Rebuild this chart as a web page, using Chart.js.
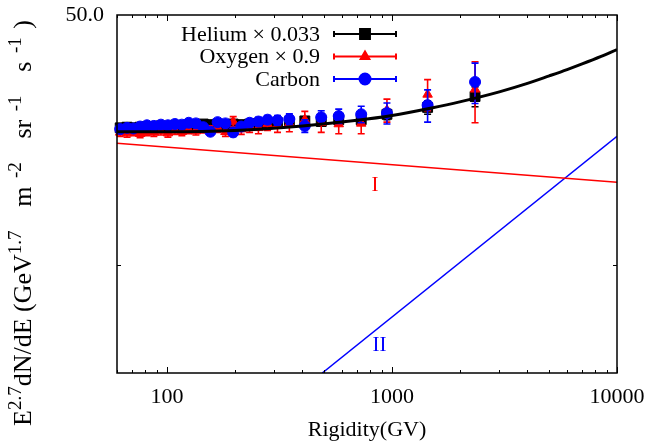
<!DOCTYPE html>
<html>
<head>
<meta charset="utf-8">
<title>Rigidity spectra</title>
<script src="https://cdn.jsdelivr.net/npm/chart.js@4.4.0/dist/chart.umd.min.js"></script>
<style>
  html, body { margin: 0; padding: 0; background: #fff; }
  canvas { display: block; }
</style>
</head>
<body>
<canvas id="spectrumChart" width="650" height="443"></canvas>
<script>
// rigidity bins (GV) shared by the three species
const rigidity = [62, 66.5, 71, 76, 81.5, 87.5, 94, 101, 108.5, 116.5, 125, 134.5, 145, 156, 168,
  182, 197, 214, 233, 255, 280, 310, 350, 410, 485, 580, 730, 950, 1440, 2340];

// E^2.7 dN/dE, helium scaled by 0.033
const heliumValue = [24.2, 24.3, 24.2, 24.3, 24.4, 24.3, 24.5, 24.4, 24.6, 24.5, 24.7, 24.6, 24.8, 24.7, 24.8,
  24.7, 24.8, 24.7, 24.8, 24.9, 24.8, 25.0, 25.1, 25.3, 25.2, 25.5, 25.5, 26.4, 27.6, 29.6];
const heliumErr = [0.3, 0.3, 0.3, 0.3, 0.3, 0.3, 0.3, 0.3, 0.3, 0.3, 0.3, 0.3, 0.3, 0.3, 0.3,
  0.3, 0.3, 0.3, 0.3, 0.3, 0.4, 0.4, 0.4, 0.5, 0.5, 0.6, 0.7, 0.9, 1.2, 1.9];

// oxygen scaled by 0.9
const oxygenValue = [23.5, 23.4, 23.6, 23.3, 23.6, 23.5, 23.7, 23.4, 23.8, 23.6, 23.9, 23.7, 24.0, 23.8, 24.2,
  23.6, 25.2, 24.0, 24.4, 24.2, 24.8, 24.6, 24.9, 25.5, 25.0, 24.8, 24.9, 27.1, 30.0, 31.0];
const oxygenErr = [0.6, 0.6, 0.6, 0.6, 0.6, 0.6, 0.6, 0.6, 0.6, 0.6, 0.6, 0.6, 0.6, 0.7, 0.7,
  0.7, 0.8, 0.8, 0.9, 0.9, 1.0, 1.1, 1.3, 1.4, 1.5, 1.5, 1.6, 2.0, 3.0, 6.0];

const carbonValue = [24.0, 24.2, 24.1, 24.4, 24.6, 24.5, 24.7, 24.6, 24.8, 24.7, 25.0, 24.9, 24.3, 23.6, 25.1,
  24.9, 23.5, 24.4, 25.0, 25.2, 25.5, 25.4, 25.6, 24.5, 25.9, 26.1, 26.4, 26.6, 28.0, 32.5];
const carbonErr = [0.4, 0.4, 0.4, 0.4, 0.4, 0.4, 0.4, 0.4, 0.4, 0.4, 0.4, 0.4, 0.5, 0.5, 0.5,
  0.5, 0.6, 0.6, 0.6, 0.7, 0.7, 0.8, 0.9, 1.0, 1.1, 1.2, 1.4, 1.8, 2.9, 4.2];

// component I (soft), component II (hard) and their sum
const compIRigidity = [60, 10000];
const compIValue = [21.9, 17.06];
const compIIRigidity = [490, 10000];
const compIIValue = [5.0, 22.9];
const totalRigidity = [60, 100, 200, 400, 700, 1000, 1500, 2000, 3000, 4000, 5000, 6000, 7000, 8500, 10000];
const totalValue = [23.6, 23.6, 23.8, 24.5, 25.4, 26.2, 27.5, 28.6, 30.5, 32.2, 33.8, 35.2, 36.5, 38.3, 40.0];

// axis ticks
const xMajorTicks = [100, 1000, 10000];
const xMinorTicks = [60, 70, 80, 90, 200, 300, 400, 500, 600, 700, 800, 900,
  2000, 3000, 4000, 5000, 6000, 7000, 8000, 9000];
const yLabelTicks = [50];
const yMinorTicks = [10];

const SERIF = "'Liberation Serif', 'Times New Roman', serif";
Chart.defaults.font.family = SERIF;
Chart.defaults.color = "#000";

const pts = (xs, ys) => xs.map((x, i) => ({ x, y: ys[i] }));

// vertical error bars, drawn just before each dataset's markers
const errorBars = {
  id: "errorBars",
  beforeDatasetDraw(chart, args) {
    const ds = chart.data.datasets[args.index];
    if (!ds.errors) return;
    const y = chart.scales.y;
    const ctx = chart.ctx;
    ctx.save();
    ctx.strokeStyle = ds.borderColor;
    ctx.lineWidth = 1.6;
    args.meta.data.forEach((pt, i) => {
      const v = ds.data[i].y, e = ds.errors[i];
      const top = y.getPixelForValue(v + e);
      const bot = y.getPixelForValue(v - e);
      ctx.beginPath();
      ctx.moveTo(pt.x, top); ctx.lineTo(pt.x, bot);
      ctx.moveTo(pt.x - 3.5, top); ctx.lineTo(pt.x + 3.5, top);
      ctx.moveTo(pt.x - 3.5, bot); ctx.lineTo(pt.x + 3.5, bot);
      ctx.stroke();
    });
    ctx.restore();
  }
};

// box around the plot with inward ticks on all sides
const frame = {
  id: "frame",
  afterDatasetsDraw(chart) {
    const { ctx, chartArea: a, scales: { x, y } } = chart;
    ctx.save();
    ctx.strokeStyle = "#000";
    ctx.lineWidth = 1.5;
    ctx.strokeRect(a.left, a.top, a.right - a.left, a.bottom - a.top);
    ctx.lineWidth = 1;
    ctx.beginPath();
    const xt = (v, len) => {
      const px = Math.round(x.getPixelForValue(v)) + 0.5;
      ctx.moveTo(px, a.bottom); ctx.lineTo(px, a.bottom - len);
      ctx.moveTo(px, a.top); ctx.lineTo(px, a.top + len);
    };
    xMajorTicks.forEach(v => xt(v, 6));
    xMinorTicks.forEach(v => xt(v, 3));
    yMinorTicks.forEach(v => {
      const py = Math.round(y.getPixelForValue(v)) + 0.5;
      ctx.moveTo(a.left, py); ctx.lineTo(a.left + 4, py);
      ctx.moveTo(a.right, py); ctx.lineTo(a.right - 4, py);
    });
    ctx.stroke();
    ctx.restore();
  }
};

// key, component labels and the y-axis title with superscripts
const extras = {
  id: "extras",
  afterDraw(chart) {
    const { ctx, scales: { x, y } } = chart;
    ctx.save();

    // key
    const keys = [
      { text: "Helium \u00d7 0.033", color: "#000", style: "rect", r: 7 },
      { text: "Oxygen \u00d7 0.9", color: "#ff0000", style: "triangle", r: 5 },
      { text: "Carbon", color: "#0000ff", style: "circle", r: 5.5 }
    ];
    ctx.font = "22px " + SERIF;
    ctx.textAlign = "right";
    ctx.textBaseline = "middle";
    keys.forEach((k, i) => {
      const cy = 34 + i * 22.5;
      ctx.fillStyle = "#000";
      ctx.fillText(k.text, 320, cy + 1);
      ctx.strokeStyle = k.color;
      ctx.lineWidth = 2;
      ctx.beginPath();
      ctx.moveTo(334, cy); ctx.lineTo(396, cy);
      ctx.moveTo(334, cy - 3); ctx.lineTo(334, cy + 3);
      ctx.moveTo(396, cy - 3); ctx.lineTo(396, cy + 3);
      ctx.stroke();
      ctx.fillStyle = k.color;
      Chart.helpers.drawPoint(ctx, { pointStyle: k.style, radius: k.r, rotation: 0, borderWidth: 1 }, 365, cy);
    });

    // component labels
    ctx.textAlign = "center";
    ctx.font = "21px " + SERIF;
    ctx.fillStyle = "#ff0000";
    ctx.fillText("I", x.getPixelForValue(840), y.getPixelForValue(16.7));
    ctx.fillStyle = "#0000ff";
    ctx.fillText("II", x.getPixelForValue(880), y.getPixelForValue(5.97));

    // y title, bottom to top; [text, superscript?, extra space before it]
    const parts = [
      ["E", 0, 0], ["2.7", 1, 0], ["dN/dE (GeV", 0, 0], ["1.7", 1, 0], [" m", 0, 2], ["-2", 1, 1],
      [" sr", 0, 2], ["-1", 1, 1], [" s", 0, 2], ["-1", 1, 1], [")", 0, 1]
    ];
    const base = "26px " + SERIF, sup = "19px " + SERIF;
    const widths = parts.map(([t, s]) => { ctx.font = s ? sup : base; return ctx.measureText(t).width; });
    const natural = widths.reduce((a, b) => a + b, 0);
    const weight = parts.reduce((a, p) => a + p[2], 0);
    const unit = Math.max(0, (406 - natural) / weight);
    ctx.fillStyle = "#000";
    ctx.textAlign = "left";
    ctx.textBaseline = "alphabetic";
    ctx.translate(31, 426);
    ctx.rotate(-Math.PI / 2);
    let pos = 0;
    parts.forEach(([t, s, w], i) => {
      pos += w * unit;
      ctx.font = s ? sup : base;
      ctx.fillText(t, pos, s ? -10 : 0);
      pos += widths[i];
    });
    ctx.restore();
  }
};

const pointSet = (label, ys, errs, color, style, r) => ({
  label,
  data: pts(rigidity, ys),
  errors: errs,
  borderColor: color,
  backgroundColor: color,
  pointStyle: style,
  pointRadius: r,
  pointBorderWidth: 1,
  showLine: false,
  clip: false
});

new Chart(document.getElementById("spectrumChart").getContext("2d"), {
  type: "scatter",
  data: {
    datasets: [
      {
        label: "I + II",
        data: pts(totalRigidity, totalValue),
        borderColor: "#000",
        borderWidth: 3,
        pointRadius: 0,
        showLine: true,
        cubicInterpolationMode: "monotone"
      },
      {
        label: "I",
        data: pts(compIRigidity, compIValue),
        borderColor: "#ff0000",
        borderWidth: 1.5,
        pointRadius: 0,
        showLine: true
      },
      {
        label: "II",
        data: pts(compIIRigidity, compIIValue),
        borderColor: "#0000ff",
        borderWidth: 1.5,
        pointRadius: 0,
        showLine: true
      },
      pointSet("Carbon", carbonValue, carbonErr, "#0000ff", "circle", 5.5),
      pointSet("Oxygen \u00d7 0.9", oxygenValue, oxygenErr, "#ff0000", "triangle", 5.5),
      pointSet("Helium \u00d7 0.033", heliumValue, heliumErr, "#000", "rect", 7)
    ]
  },
  options: {
    responsive: false,
    animation: false,
    layout: { padding: { top: 15, right: 33, left: 0, bottom: 0 } },
    plugins: {
      legend: { display: false },
      tooltip: { enabled: false }
    },
    scales: {
      x: {
        type: "logarithmic",
        min: 60,
        max: 10000,
        // tick marks are drawn by the frame plugin; tickLength only spaces the labels
        grid: { display: false, drawTicks: true, tickLength: 11 },
        border: { display: false },
        afterBuildTicks: s => { s.ticks = xMajorTicks.map(v => ({ value: v })); },
        afterFit: s => { s.height = 70; },
        ticks: {
          autoSkip: false,
          maxRotation: 0,
          padding: 0,
          font: { size: 22 },
          callback: v => String(v)
        },
        title: {
          display: true,
          text: "Rigidity(GV)",
          font: { size: 22 },
          padding: { top: 0, bottom: 0 }
        }
      },
      y: {
        type: "logarithmic",
        min: 5,
        max: 50,
        grid: { display: false, drawTicks: true, tickLength: 13 },
        border: { display: false },
        afterBuildTicks: s => { s.ticks = yLabelTicks.map(v => ({ value: v })); },
        afterFit: s => { s.width = 117; },
        ticks: {
          padding: 0,
          font: { size: 22 },
          callback: v => Number(v).toFixed(1)
        }
      }
    }
  },
  plugins: [errorBars, frame, extras]
});
</script>
</body>
</html>
